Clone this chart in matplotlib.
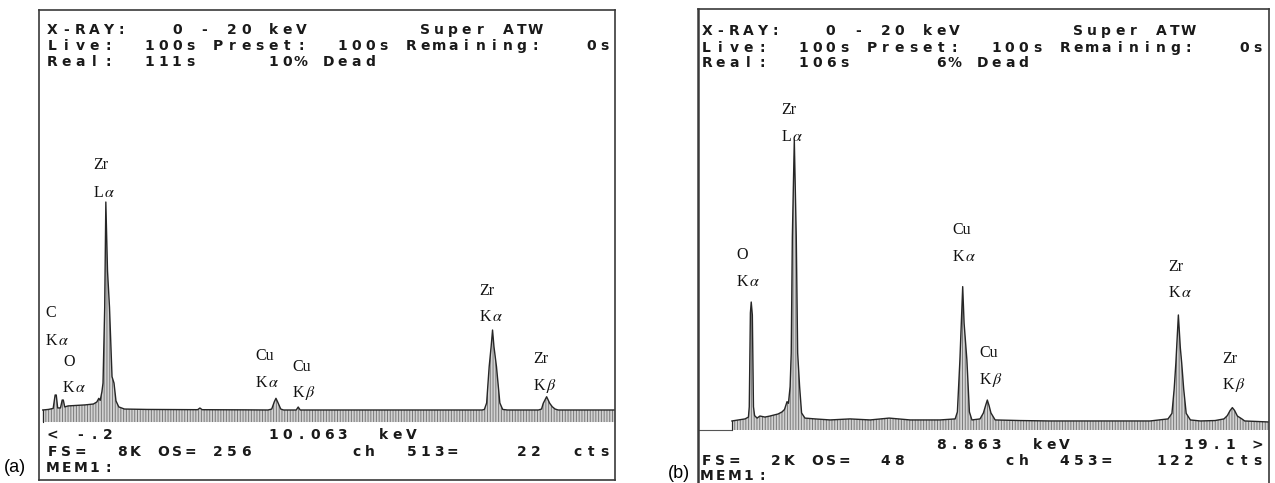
import matplotlib
matplotlib.use("Agg")
import matplotlib.pyplot as plt

plt.rcParams['mathtext.fontset'] = 'stix'
plt.rcParams['hatch.linewidth'] = 0.7

# spectrum (a): energy (keV) and counts
a_kev = [-0.20, 0.00, 0.17, 0.24, 0.28, 0.33, 0.43, 0.49, 0.53, 0.58, 0.70, 1.00, 1.30,
         1.60, 1.72, 1.79, 1.84, 1.90, 1.94, 2.00, 2.04, 2.10, 2.17, 2.26, 2.33, 2.40,
         2.50, 2.70, 3.50, 5.30, 5.38, 5.46, 7.00, 7.80, 7.93, 8.02, 8.08, 8.14, 8.25,
         8.35, 8.80, 8.87, 8.94, 12.00, 15.40, 15.48, 15.56, 15.65, 15.72, 15.77, 15.82,
         15.91, 16.03, 16.13, 16.30, 17.40, 17.51, 17.57, 17.69, 17.80, 17.89, 17.99,
         18.10, 20.10]
a_cts = [239, 250, 270, 537, 537, 280, 280, 437, 437, 300, 320, 330, 340,
         358, 398, 471, 430, 600, 775, 2286, 4374, 3000, 2286, 900, 775, 420,
         300, 258, 250, 245, 278, 245, 242, 239, 258, 400, 471, 400, 258,
         239, 239, 298, 239, 239, 239, 250, 378, 1099, 1500, 1829, 1500,
         1099, 378, 250, 239, 239, 258, 372, 503, 372, 304, 258,
         239, 239]

# spectrum (b)
b_kev = [-0.19, 0.28, 0.40, 0.43, 0.47, 0.50, 0.54, 0.58, 0.62, 0.71, 0.81, 0.99, 1.17,
         1.46, 1.60, 1.69, 1.78, 1.83, 1.89, 1.93, 1.97, 2.04, 2.11, 2.16, 2.23, 2.30,
         2.42, 2.78, 3.32, 4.03, 4.75, 5.43, 6.18, 7.25, 7.79, 7.87, 7.96, 8.01, 8.06,
         8.11, 8.21, 8.30, 8.39, 8.68, 8.80, 8.88, 8.94, 9.00, 9.07, 9.22, 10.11, 11.18,
         12.96, 14.76, 15.40, 15.54, 15.62, 15.68, 15.77, 15.84, 15.89, 15.96, 16.05,
         16.20, 16.55, 17.08, 17.40, 17.52, 17.62, 17.70, 17.78, 17.88, 18.04, 18.14, 19.01]
b_cts = [44, 54, 63, 113, 570, 623, 560, 113, 70, 58, 68, 63, 68,
         78, 88, 100, 138, 130, 211, 375, 940, 1412, 940, 375, 211, 83,
         58, 54, 49, 54, 49, 58, 49, 49, 54, 88, 341, 520, 698,
         520, 341, 88, 49, 54, 83, 120, 146, 120, 83, 49, 46, 44,
         44, 44, 54, 81, 200, 325, 560, 400, 325, 200, 81,
         49, 44, 46, 54, 70, 95, 109, 95, 68, 54, 44, 39]

a_head = ["X-RAY:   0 - 20 keV        Super ATW",
          "Live:  100s Preset:  100s Remaining:   0s",
          "Real:  111s     10% Dead"]
a_foot = ["< -.2           10.063  keV",
          "FS=  8K OS= 256       ch  513=    22  cts",
          "MEM1:"]
b_head = ["X-RAY:   0 - 20 keV        Super ATW",
          "Live:  100s Preset:  100s Remaining:   0s",
          "Real:  106s      6% Dead"]
b_foot = ["                 8.863  keV        19.1 >",
          "FS=  2K OS=  48       ch  453=   122  cts",
          "MEM1:"]

ka = r"K$\,\alpha$"
kb = r"K$\,\beta$"
la = r"L$\,\alpha$"
a_labels = [("Zr", 93, 165), (la, 93, 193), ("C", 45, 313), (ka, 45, 341),
            ("O", 63, 362), (ka, 62, 388), ("Cu", 255, 356), (ka, 255, 383),
            ("Cu", 292, 367), (kb, 292, 393), ("Zr", 479, 291), (ka, 479, 317),
            ("Zr", 533, 359), (kb, 533, 386)]
b_labels = [("Zr", 781, 110), (la, 781, 137), ("O", 736, 255), (ka, 736, 282),
            ("Cu", 952, 230), (ka, 952, 257), ("Cu", 979, 353), (kb, 979, 380),
            ("Zr", 1168, 267), (ka, 1168, 293), ("Zr", 1222, 359), (kb, 1222, 385)]

W, H = 1275, 483
fig = plt.figure(figsize=(W / 100, H / 100), dpi=100)


def put(x, y, s, **kw):
    fig.text(x / W, 1 - y / H, s, **kw)


def mono(x0, y, s, pitch=13.8):
    for i, ch in enumerate(s):
        if ch != ' ':
            put(x0 + (i + 0.5) * pitch, y, ch, ha='center', va='center',
                family='DejaVu Sans', fontsize=10, weight='bold', color='#1a1a1a')


def spectrum(ax, kev, cts, xlim, ylim):
    ax.fill_between(kev, 0, cts, facecolor='#d2d2d2', edgecolor='#7a7a7a',
                    hatch='||||||', linewidth=0)
    ax.plot(kev, cts, color='#262626', lw=1.0)
    ax.plot([kev[0], kev[0]], [0, cts[0]], color='#262626', lw=0.8)
    ax.set_xlim(*xlim)
    ax.set_ylim(*ylim)
    ax.set_xticks([])
    ax.set_yticks([])
    for sp in ax.spines.values():
        sp.set_color('#3a3a3a')
        sp.set_linewidth(1.2)


ax_a = fig.add_axes([38.8 / W, 1 - 480 / H, (614.5 - 38.8) / W, 470 / H])
spectrum(ax_a, a_kev, a_cts, (-0.34, 20.1), (-1153, 8192))

ax_b = fig.add_axes([697.8 / W, 0, (1269 - 697.8) / W, 1 - 9.3 / H])
spectrum(ax_b, b_kev, b_cts, (-1.41, 19.01), (-258, 2048))
ax_b.spines['bottom'].set_visible(False)
ax_b.spines['left'].set_linewidth(1.8)
ax_b.hlines(0, -1.41, b_kev[0], color='#555555', lw=0.8)

for i, s in enumerate(a_head):
    mono(45.7, [30, 46, 62][i], s)
for i, s in enumerate(a_foot):
    mono(45.7, [435, 452, 468][i], s)
for i, s in enumerate(b_head):
    mono(699.8, [31, 48, 63][i], s, pitch=13.77)
for i, s in enumerate(b_foot):
    mono(699.8, [445, 461, 476][i], s, pitch=13.77)

for txt, x, y in a_labels + b_labels:
    put(x, y, txt, ha='left', va='center', family='Liberation Serif',
        fontsize=11.5, color='#111111')

put(4, 468, "(a)", ha='left', va='center', family='Liberation Sans', fontsize=13)
put(668, 473, "(b)", ha='left', va='center', family='Liberation Sans', fontsize=13)

fig.savefig("out.png", dpi=100)
